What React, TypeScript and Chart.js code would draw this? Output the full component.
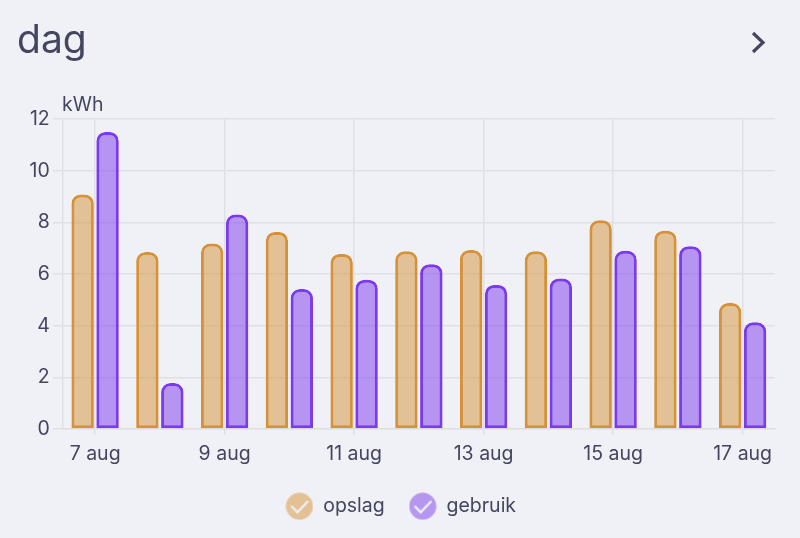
import { useEffect, useRef } from 'react';
import { Chart, registerables } from 'chart.js';

Chart.register(...registerables);

const days = ['7 aug', '8 aug', '9 aug', '10 aug', '11 aug', '12 aug', '13 aug', '14 aug', '15 aug', '16 aug', '17 aug'];
const opslag = [9.08, 6.85, 7.18, 7.63, 6.78, 6.88, 6.93, 6.88, 8.08, 7.68, 4.88];
const gebruik = [11.5, 1.78, 8.3, 5.42, 5.78, 6.38, 5.58, 5.83, 6.9, 7.08, 4.13];

const textColor = '#44465f';
const gridColor = '#dfe0e6';
const fontFamily = 'Inter, sans-serif';
const fontSize = 19.5;

// round legend marker with a check mark in it
function checkIcon(fill: string) {
  const size = 28;
  const c = document.createElement('canvas');
  c.width = size;
  c.height = size;
  const ctx = c.getContext('2d')!;
  ctx.fillStyle = fill;
  ctx.beginPath();
  ctx.arc(14, 14, 13.5, 0, Math.PI * 2);
  ctx.fill();
  ctx.strokeStyle = '#f0f1f6';
  ctx.lineWidth = 2.4;
  ctx.lineCap = 'round';
  ctx.beginPath();
  ctx.moveTo(6.5, 14.5);
  ctx.lineTo(12, 20);
  ctx.lineTo(22, 9.5);
  ctx.stroke();
  return c;
}

export default function App() {
  const canvasRef = useRef<HTMLCanvasElement | null>(null);

  useEffect(() => {
    if (!canvasRef.current) return;
    const radius = { topLeft: 9, topRight: 9, bottomLeft: 0, bottomRight: 0 };
    const chart = new Chart(canvasRef.current, {
      type: 'bar',
      data: {
        labels: days,
        datasets: [
          {
            label: 'opslag',
            data: opslag,
            backgroundColor: 'rgba(214,146,56,0.5)',
            borderColor: '#d69238',
            borderWidth: 3,
            borderRadius: radius,
            borderSkipped: false,
            pointStyle: checkIcon('#e3c195') as any,
          },
          {
            label: 'gebruik',
            data: gebruik,
            backgroundColor: 'rgba(124,58,237,0.5)',
            borderColor: '#7c3aed',
            borderWidth: 3,
            borderRadius: radius,
            borderSkipped: false,
            pointStyle: checkIcon('#b697ef') as any,
          },
        ],
      },
      options: {
        responsive: false,
        animation: false,
        layout: { padding: { left: 26.5, right: 25, top: 119, bottom: 12 } },
        datasets: { bar: { categoryPercentage: 0.77, barPercentage: 0.9 } },
        plugins: {
          tooltip: { enabled: false },
          legend: {
            position: 'bottom',
            labels: {
              usePointStyle: true,
              pointStyleWidth: 28,
              boxHeight: 28,
              color: textColor,
              font: { family: fontFamily, size: fontSize },
              padding: 24,
            },
          },
        },
        scales: {
          x: {
            grid: { color: gridColor, offset: false, tickLength: 6, lineWidth: 1.5 },
            border: { color: gridColor, width: 1.5 },
            ticks: {
              color: textColor,
              font: { family: fontFamily, size: fontSize },
              autoSkip: true,
              maxTicksLimit: 6,
              maxRotation: 0,
              padding: 7,
            },
          },
          y: {
            min: 0,
            max: 12,
            grid: { color: gridColor, tickLength: 10, lineWidth: 1.5 },
            border: { color: gridColor, width: 1.5 },
            ticks: {
              color: textColor,
              font: { family: fontFamily, size: fontSize },
              stepSize: 2,
              padding: 3,
            },
          },
        },
      },
    });
    return () => chart.destroy();
  }, []);

  return (
    <div style={{ position: 'absolute', left: 0, top: 0, width: 800, height: 538, background: '#f0f1f6', overflow: 'hidden' }}>
      <canvas ref={canvasRef} width={800} height={538} style={{ display: 'block' }} />
      <div style={{ position: 'absolute', left: 17, top: 12, fontFamily, fontSize: 39, lineHeight: '54px', color: textColor }}>dag</div>
      <div style={{ position: 'absolute', left: 62, top: 93, fontFamily, fontSize, lineHeight: '22px', color: textColor }}>kWh</div>
      <svg style={{ position: 'absolute', left: 748, top: 30 }} width={20} height={24}>
        <path d="M5 3 L15 12.5 L5 22" fill="none" stroke={textColor} strokeWidth={3.2} />
      </svg>
    </div>
  );
}
